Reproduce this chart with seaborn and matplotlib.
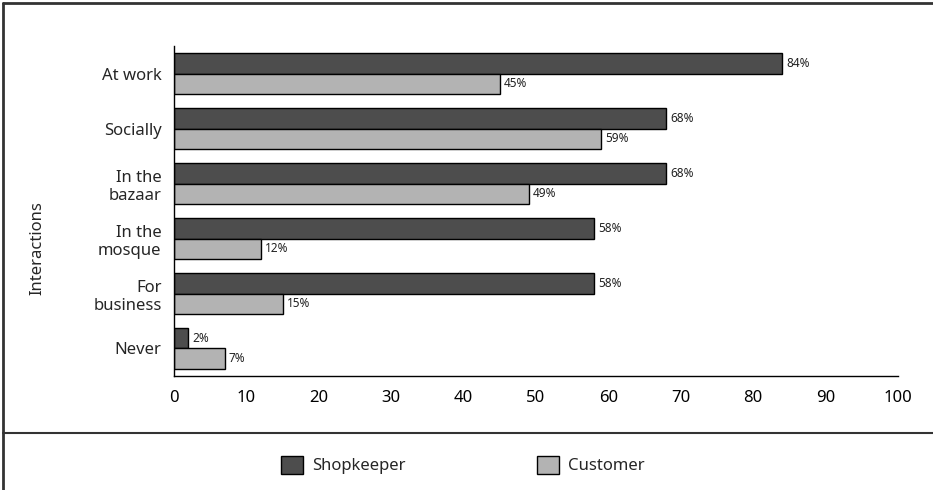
import matplotlib
matplotlib.use("Agg")
import matplotlib.pyplot as plt
from matplotlib.lines import Line2D
from matplotlib.patches import Patch
import pandas as pd
import seaborn as sns

# Data
categories = ["At work", "Socially", "In the\nbazaar", "In the\nmosque", "For\nbusiness", "Never"]
shopkeeper = [84, 68, 68, 58, 58, 2]
customer = [45, 59, 49, 12, 15, 7]
series_names = ["Shopkeeper", "Customer"]
series_colors = ["#4d4d4d", "#b3b3b3"]
x_ticks = [0, 10, 20, 30, 40, 50, 60, 70, 80, 90, 100]

df = pd.DataFrame({
    "category": categories * 2,
    "value": shopkeeper + customer,
    "group": [series_names[0]] * len(categories) + [series_names[1]] * len(categories),
})

sns.set_style("white")
plt.rcParams["font.family"] = ["Noto Sans", "DejaVu Sans"]

fig = plt.figure(figsize=(9.33, 4.9), dpi=100)
ax = fig.add_axes([0.1865, 0.2327, 0.776, 0.673])

sns.barplot(
    data=df, x="value", y="category", hue="group",
    order=categories, hue_order=series_names,
    palette=series_colors, width=0.75, edgecolor="black", linewidth=1,
    legend=False, ax=ax,
)

for container in ax.containers:
    ax.bar_label(container, labels=[f"{v:.0f}%" for v in container.datavalues],
                 padding=3, fontsize=8.5, color="#222222")

ax.set_xlim(0, 100)
ax.set_xticks(x_ticks)
ax.tick_params(axis="x", direction="out", length=6, width=1, labelsize=12, pad=4, colors="black")
ax.tick_params(axis="y", length=0, labelsize=12, pad=9)
for lbl in ax.get_yticklabels():
    lbl.set_linespacing(1.2)
ax.set_xlabel("")
ax.set_ylabel("")
sns.despine(ax=ax, top=True, right=True)
for side in ("left", "bottom"):
    ax.spines[side].set_color("black")
    ax.spines[side].set_linewidth(1)

fig.text(37 / 933, 1 - 248 / 490, "Interactions", rotation=90, ha="center", va="center", fontsize=12)

# frame lines: top, left, and separator above legend
fig.add_artist(Line2D([3 / 933, 1], [1 - 3 / 490, 1 - 3 / 490], color="#333333", lw=2))
fig.add_artist(Line2D([3 / 933, 3 / 933], [0, 1 - 3 / 490], color="#333333", lw=2))
fig.add_artist(Line2D([3 / 933, 1], [1 - 433 / 490, 1 - 433 / 490], color="#333333", lw=1.5))

handles = [Patch(facecolor=c, edgecolor="black", linewidth=1) for c in series_colors]
fig.legend(handles, series_names, loc="center", bbox_to_anchor=(0.496, 1 - 465 / 490),
           ncol=2, frameon=False, fontsize=12, handlelength=1.3, handleheight=1.3,
           handletextpad=0.55, columnspacing=7.9)

fig.savefig("out.png", dpi=100)
